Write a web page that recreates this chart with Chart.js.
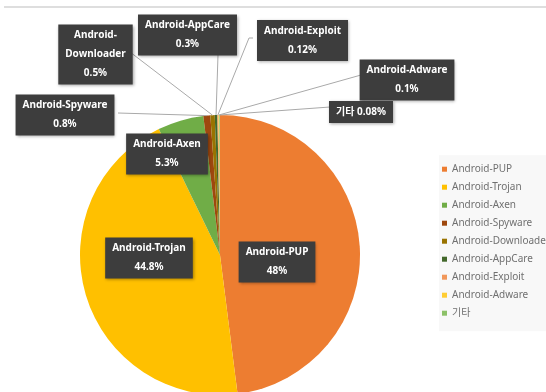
<!DOCTYPE html>
<html>
<head>
<meta charset="utf-8">
<script src="https://cdn.jsdelivr.net/npm/chart.js@4"></script>
<style>
  html, body { margin: 0; padding: 0; background: #fff; }
  #wrap { position: relative; width: 546px; height: 392px; overflow: hidden; }
  #topLine { position: absolute; left: 4px; right: 0; top: 6px; border-top: 2px solid #dedede; }
  canvas { position: absolute; left: 0; top: 0; }
</style>
</head>
<body>
<div id="wrap">
  <canvas id="malwarePie" width="546" height="392"></canvas>
  <div id="topLine"></div>
</div>
<script>
// --- data ---
const categories = ['Android-PUP', 'Android-Trojan', 'Android-Axen', 'Android-Spyware',
  'Android-Downloader', 'Android-AppCare', 'Android-Exploit', 'Android-Adware', '기타'];
const shares = [48, 44.8, 5.3, 0.8, 0.5, 0.3, 0.12, 0.1, 0.08];
const colors = ['#ED7D31', '#FFC000', '#70AD47', '#9E480E', '#997300', '#43682B',
  '#F1975A', '#FFCD33', '#8CC168'];

// callout boxes: centre of each box, where its leader line leaves it
const callouts = [
  { cx: 277, cy: 262 },
  { cx: 149, cy: 258 },
  { cx: 167, cy: 154 },
  { cx: 65, cy: 115, from: [[118, 113]] },
  { cx: 95.5, cy: 54.5, split: true, from: [[130, 52]] },
  { cx: 187.5, cy: 35, from: [[218, 55]] },
  { cx: 302.5, cy: 40.5, from: [[253, 38], [249, 38]] },
  { cx: 407, cy: 80, from: [[361, 75]] },
  { cx: 361, cy: 112, inline: true, from: [[330, 107]] },
];

const LABEL_FONT = 'bold 10px "Noto Sans", "Noto Sans CJK KR", sans-serif';

function labelLines(i) {
  const pct = shares[i] + '%';
  const c = callouts[i];
  if (c.inline) return [categories[i] + ' ' + pct];
  if (c.split) {
    const cut = categories[i].indexOf('-') + 1;
    return [categories[i].slice(0, cut), categories[i].slice(cut), pct];
  }
  return [categories[i], pct];
}

const legendPanel = {
  id: 'legendPanel',
  beforeDraw(chart) {
    const lg = chart.legend;
    if (!lg || !lg.legendHitBoxes.length) return;
    const boxes = lg.legendHitBoxes;
    const top = boxes[0].top - 9;
    const bottom = boxes[boxes.length - 1].top + boxes[boxes.length - 1].height + 13;
    const ctx = chart.ctx;
    ctx.save();
    ctx.fillStyle = '#f8f8f8';
    ctx.fillRect(lg.left + 5, top, chart.width - lg.left - 5, bottom - top);
    ctx.restore();
  }
};

const calloutPlugin = {
  id: 'callouts',
  afterDatasetsDraw(chart) {
    const ctx = chart.ctx;
    const arcs = chart.getDatasetMeta(0).data;
    ctx.save();
    // leader lines
    ctx.strokeStyle = '#a9a9a9';
    ctx.lineWidth = 1;
    callouts.forEach((c, i) => {
      if (!c.from) return;
      const a = arcs[i];
      const mid = (a.startAngle + a.endAngle) / 2;
      const px = a.x + Math.cos(mid) * a.outerRadius;
      const py = a.y + Math.sin(mid) * a.outerRadius;
      ctx.beginPath();
      ctx.moveTo(c.from[0][0], c.from[0][1]);
      c.from.slice(1).forEach(p => ctx.lineTo(p[0], p[1]));
      ctx.lineTo(px, py);
      ctx.stroke();
    });
    // boxes
    ctx.font = LABEL_FONT;
    ctx.textAlign = 'center';
    ctx.textBaseline = 'middle';
    callouts.forEach((c, i) => {
      const lines = labelLines(i);
      const w = Math.max(...lines.map(t => ctx.measureText(t).width)) + 14;
      const h = lines.length * 19 + 3;
      const x0 = c.cx - w / 2;
      const y0 = c.cy - h / 2;
      ctx.save();
      ctx.shadowColor = 'rgba(0,0,0,0.35)';
      ctx.shadowBlur = 3;
      ctx.shadowOffsetX = 1;
      ctx.shadowOffsetY = 1;
      ctx.fillStyle = '#3d3d3d';
      ctx.fillRect(x0, y0, w, h);
      ctx.restore();
      ctx.fillStyle = '#ffffff';
      lines.forEach((t, k) => ctx.fillText(t, c.cx, y0 + 11 + k * 19));
    });
    ctx.restore();
  }
};

new Chart(document.getElementById('malwarePie'), {
  type: 'pie',
  data: {
    labels: categories,
    datasets: [{
      data: shares,
      backgroundColor: colors,
      borderWidth: 0,
      radius: 140
    }]
  },
  options: {
    responsive: false,
    animation: false,
    layout: { padding: { left: 6, right: 0, top: 118, bottom: 0 } },
    plugins: {
      tooltip: { enabled: false },
      legend: {
        position: 'right',
        align: 'start',
        maxWidth: 112,
        title: { display: true, text: '', font: { size: 1 }, padding: { top: 37, bottom: 0 } },
        labels: {
          boxWidth: 5,
          boxHeight: 5,
          padding: 8,
          color: '#707070',
          font: { size: 10, family: '"Noto Sans", "Noto Sans CJK KR", sans-serif' }
        }
      }
    }
  },
  plugins: [legendPanel, calloutPlugin]
});
</script>
</body>
</html>
